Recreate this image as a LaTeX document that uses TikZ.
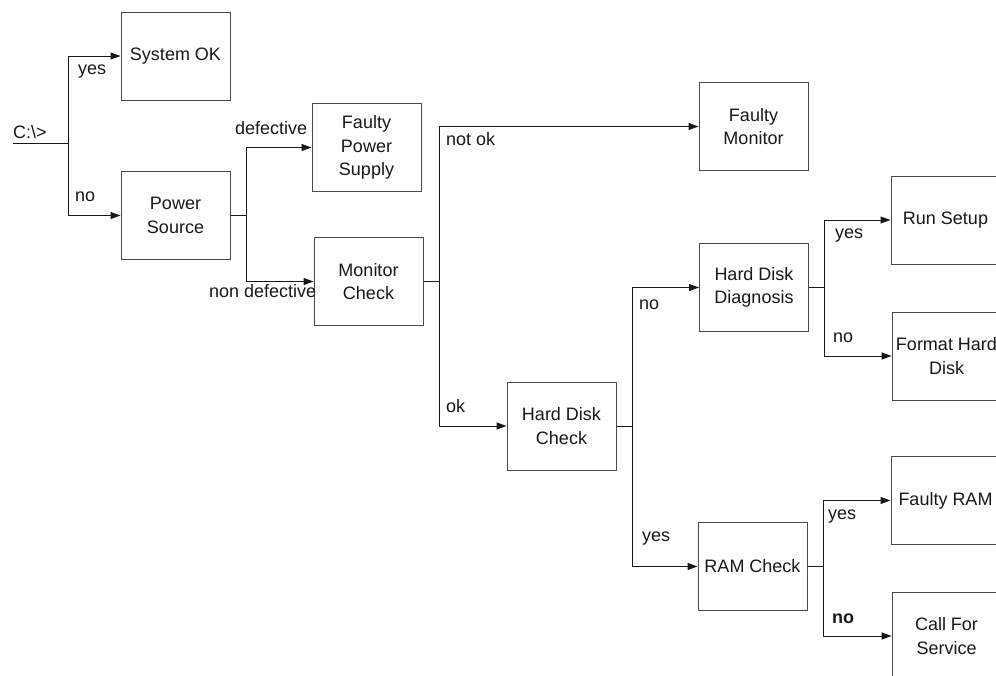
\documentclass[tikz,border=0pt]{standalone}
\usepackage{fontspec}
\setmainfont{Liberation Sans}
\usetikzlibrary{arrows.meta}
\begin{document}
\begin{tikzpicture}[x=1pt,y=-1pt,
  every node/.style={font=\fontsize{18}{23.5}\selectfont, text=black!90},
  box/.style={draw=black!70, line width=1pt, minimum width=109pt,
    minimum height=88pt, inner sep=0pt, align=center},
  lbl/.style={inner sep=0pt, anchor=mid west},
  wire/.style={draw=black!90, line width=1pt},
  arr/.style={wire, -{Triangle[length=10pt,width=7pt]}}]
\clip (0,0) rectangle (996,675);
\fill[white] (0,0) rectangle (996,675);

% decision boxes
\node[box] (sysok)   at (175.5,56)    {System OK};
\node[box] (power)   at (175.5,215.5) {Power\\Source};
\node[box] (fps)     at (366.5,147.5) {Faulty\\Power\\Supply};
\node[box] (moncheck) at (368.5,281.5) {Monitor\\Check};
\node[box] (fmon)    at (753.5,126.5) {Faulty\\Monitor};
\node[box] (hdc)     at (561.5,426)   {Hard Disk\\Check};
\node[box] (hdd)     at (754,287.5)   {Hard Disk\\Diagnosis};
\node[box] (runsetup) at (945.5,220)  {Run Setup};
\node[box] (format)  at (946.5,356)   {Format Hard\\Disk};
\node[box] (ramcheck) at (752.5,566.5) {RAM Check};
\node[box] (faultyram) at (945.5,500.5) {Faulty RAM};
\node[box] (service) at (946.5,636)   {Call For\\Service};

% prompt
\coordinate (start) at (13,143);
\coordinate (j0) at (68,143);
\node[inner sep=0pt, anchor=base west] (prompt) at (13,138) {C:\textbackslash>};
\draw[wire] (start) -- (j0);
\draw[arr] (j0) |- (sysok.west);
\draw[arr] (j0) |- (power.west);

% power source branch
\draw[wire] (power.east) -- ++(16,0) coordinate (j1);
\draw[arr] (j1) |- (fps.west);
\draw[arr] (j1) |- (moncheck.west);

% monitor check branch
\draw[wire] (moncheck.east) -- ++(16,0) coordinate (j2);
\draw[arr] (j2) |- (fmon.west);
\draw[arr] (j2) |- (hdc.west);

% hard disk check branch
\draw[wire] (hdc.east) -- ++(16,0) coordinate (j3);
\draw[arr] (j3) |- (hdd.west);
\draw[arr] (j3) |- (ramcheck.west);

% hard disk diagnosis branch
\draw[wire] (hdd.east) -- ++(15,0) coordinate (j4);
\draw[arr] (j4) |- (runsetup.west);
\draw[arr] (j4) |- (format.west);

% RAM check branch
\draw[wire] (ramcheck.east) -- ++(16,0) coordinate (j5);
\draw[arr] (j5) |- (faultyram.west);
\draw[arr] (j5) |- (service.west);

% branch labels
\node[lbl] (l1)  at (78,72)   {yes};
\node[lbl] (l2)  at (75,199)  {no};
\node[lbl] (l3)  at (235,132) {defective};
\node[lbl] (l4)  at (209,295) {non defective};
\node[lbl] (l5)  at (446,143) {not ok};
\node[lbl] (l6)  at (446,410) {ok};
\node[lbl] (l7)  at (639,307) {no};
\node[lbl] (l8)  at (642,539) {yes};
\node[lbl] (l9)  at (835,236) {yes};
\node[lbl] (l10) at (833,340) {no};
\node[lbl] (l11) at (828,517) {yes};
\node[lbl, font=\fontsize{18}{23.5}\selectfont\bfseries] (l12) at (832,621) {no};
\end{tikzpicture}
\end{document}
